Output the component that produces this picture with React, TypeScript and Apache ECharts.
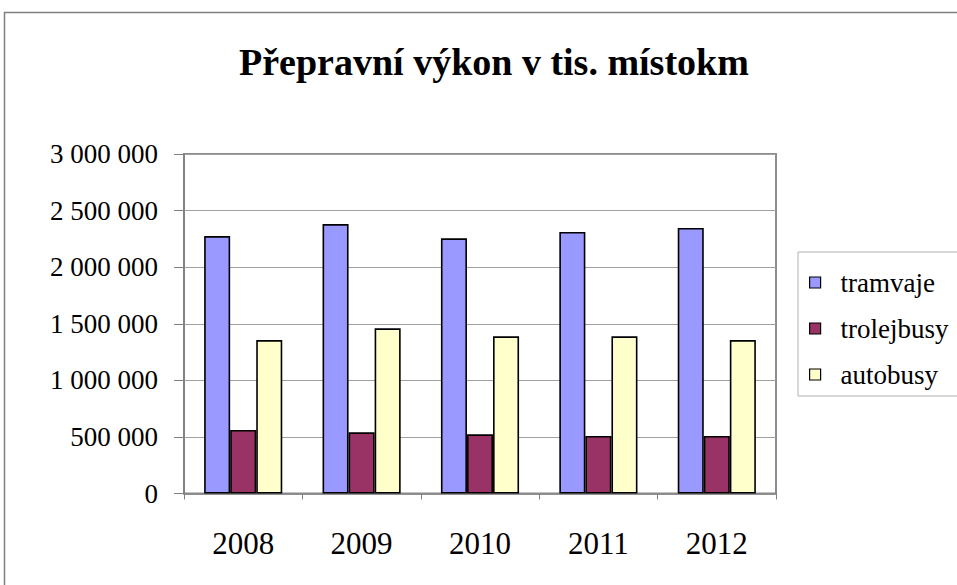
import React, { useEffect, useRef } from "react";
import * as echarts from "echarts";

const categories = ["2008", "2009", "2010", "2011", "2012"];
const tramvaje = [2275000, 2381000, 2255000, 2311000, 2346000];
const trolejbusy = [561000, 541000, 523000, 508000, 508000];
const autobusy = [1356000, 1460000, 1389000, 1389000, 1356000];
const seriesNames = ["tramvaje", "trolejbusy", "autobusy"];
const titleText = "Přepravní výkon v tis. místokm";

const FONT = "Liberation Serif";

function fmt(v: number): string {
  return String(v).replace(/\B(?=(\d{3})+(?!\d))/g, " ");
}

export default function App() {
  const ref = useRef<HTMLDivElement>(null);
  useEffect(() => {
    if (!ref.current) return;
    const chart = echarts.init(ref.current, undefined, { renderer: "svg" });
    const colors = ["#9999FF", "#993366", "#FFFFCC"];
    const data = [tramvaje, trolejbusy, autobusy];
    chart.setOption({
      animation: false,
      backgroundColor: "#ffffff",
      textStyle: { fontFamily: FONT },
      title: {
        text: titleText,
        left: 234,
        top: 38,
        textStyle: { fontFamily: FONT, fontSize: 38, fontWeight: "bold", color: "#000" },
      },
      graphic: [
        {
          type: "rect",
          shape: { x: 4.5, y: 12.5, width: 1000, height: 1000 },
          style: { fill: "none", stroke: "#808080", lineWidth: 1.5 },
          silent: true,
        },
      ],
      legend: {
        orient: "vertical",
        left: 798,
        top: 252,
        itemWidth: 11,
        itemHeight: 11,
        itemGap: 19,
        padding: [17, 30, 8, 11],
        borderColor: "#b0b0b0",
        borderWidth: 1,
        icon: "rect",
        itemStyle: { borderColor: "#000", borderWidth: 1.2 },
        textStyle: { fontFamily: FONT, fontSize: 27, color: "#000", padding: [0, 0, 0, 15] },
        data: seriesNames,
      },
      grid: {
        left: 184,
        top: 154,
        width: 592,
        height: 339.5,
        containLabel: false,
        show: true,
        borderColor: "#8c8c8c",
        borderWidth: 2,
      },
      xAxis: {
        type: "category",
        data: categories,
        axisLine: { lineStyle: { color: "#808080", width: 1.5 } },
        axisTick: { show: true, length: 6, lineStyle: { color: "#808080", width: 1 } },
        axisLabel: { fontFamily: FONT, fontSize: 31, color: "#000", margin: 34 },
      },
      yAxis: {
        type: "value",
        min: 0,
        max: 3000000,
        interval: 500000,
        axisLine: { show: true, lineStyle: { color: "#808080", width: 1.5 } },
        axisTick: { show: true, length: 10, lineStyle: { color: "#808080" } },
        splitLine: { show: true, lineStyle: { color: "#a0a0a0", width: 1 } },
        axisLabel: {
          fontFamily: FONT,
          fontSize: 27,
          color: "#000",
          margin: 26,
          formatter: (v: number) => fmt(v),
        },
      },
      series: seriesNames.map((name, i) => ({
        name,
        type: "bar",
        data: data[i],
        barGap: "0%",
        barCategoryGap: "34%",
        itemStyle: { color: colors[i], borderColor: "#000", borderWidth: 1.6 },
      })),
    });
    return () => chart.dispose();
  }, []);
  return (
    <div
      ref={ref}
      style={{ position: "absolute", left: 0, top: 0, width: 957, height: 585 }}
    />
  );
}
